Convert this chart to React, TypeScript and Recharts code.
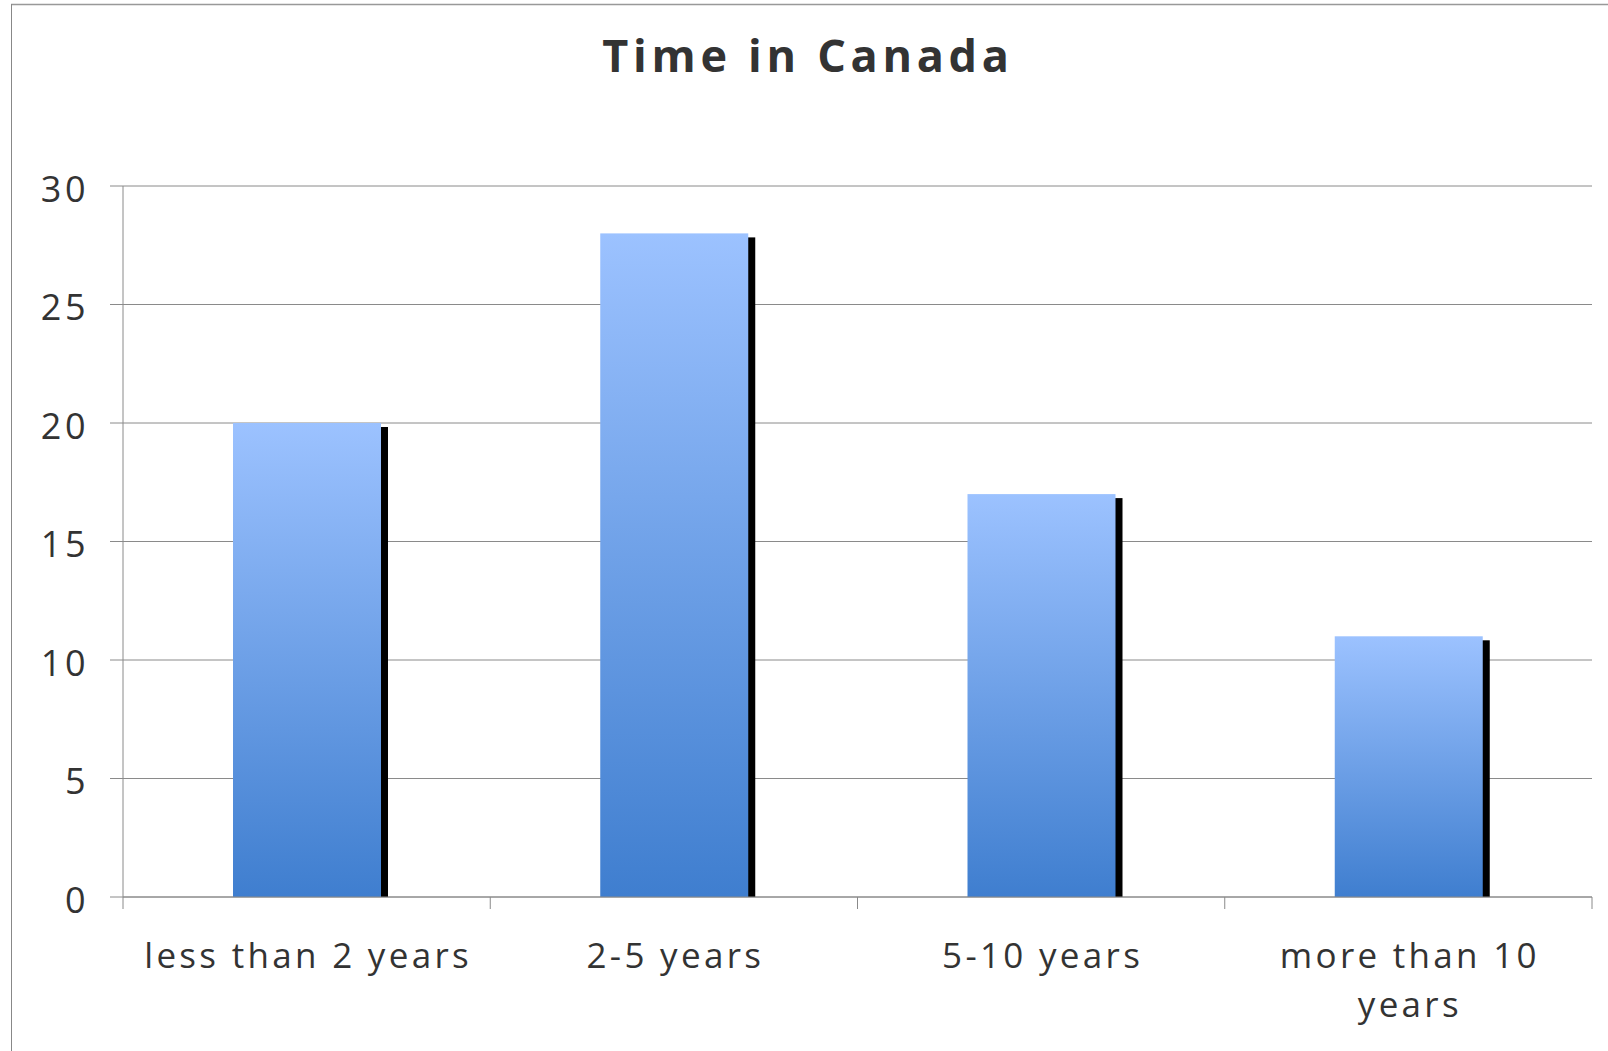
import { BarChart, Bar, XAxis, YAxis, CartesianGrid } from "recharts";

// values
const categories = ["less than 2 years", "2-5 years", "5-10 years", "more than 10 years"];
const counts = [20, 28, 17, 11];
const yTicks = [0, 5, 10, 15, 20, 25, 30];

const data = categories.map((name, i) => ({ name, value: counts[i] }));

const W = 1608;
const H = 1051;
const MARGIN = { top: 186, right: 16, bottom: 0, left: 0 };
const Y_AXIS_W = 123;
const X_AXIS_H = 154;
// width of one category band, so the x ticks can sit on the band edges
const BAND = (W - MARGIN.left - MARGIN.right - Y_AXIS_W) / categories.length;

const FONT = "'Open Sans', 'DejaVu Sans', sans-serif";
const TEXT = "#333333";
const GRID = "#8a8a8a";

// greedy word wrap, by characters
function wrap(label: string, maxChars: number) {
  const lines: string[] = [];
  let cur = "";
  for (const w of label.split(" ")) {
    const next = cur ? cur + " " + w : w;
    if (next.length > maxChars && cur) {
      lines.push(cur);
      cur = w;
    } else {
      cur = next;
    }
  }
  if (cur) lines.push(cur);
  return lines;
}

function CategoryTick(props: any) {
  const { x, y, payload, index } = props;
  const lines = wrap(String(payload.value), 17);
  const left = x - BAND / 2;
  const isLast = index === categories.length - 1;
  return (
    <g>
      <line x1={left} x2={left} y1={y} y2={y + 12} stroke={GRID} />
      {isLast && <line x1={x + BAND / 2} x2={x + BAND / 2} y1={y} y2={y + 12} stroke={GRID} />}
      <text
        x={x + 1.5}
        y={y + 71}
        textAnchor="middle"
        fill={TEXT}
        fontSize={35}
        fontFamily={FONT}
        letterSpacing={3.3}
      >
        {lines.map((l, i) => (
          <tspan key={i} x={x + 1.5} dy={i === 0 ? 0 : 48.5}>
            {l}
          </tspan>
        ))}
      </text>
    </g>
  );
}

// bar with a black drop shadow to the right
function ShadowBar(props: any) {
  const { x, y, width, height } = props;
  if (!height || height <= 0) return null;
  return (
    <g>
      <rect x={x + 7} y={y + 4} width={width} height={height - 4} fill="#000000" />
      <rect x={x} y={y} width={width} height={height} fill="url(#barFill)" />
    </g>
  );
}

export default function App() {
  return (
    <div style={{ position: "absolute", left: 0, top: 0, width: W, height: H, background: "#ffffff" }}>
      <BarChart width={W} height={H} data={data} margin={MARGIN}>
        <defs>
          <linearGradient id="barFill" x1="0" y1="0" x2="0" y2="1">
            <stop offset="0%" stopColor="#9cc2ff" />
            <stop offset="100%" stopColor="#3f7ecf" />
          </linearGradient>
        </defs>
        <CartesianGrid vertical={false} stroke={GRID} />
        <XAxis
          dataKey="name"
          height={X_AXIS_H}
          stroke={GRID}
          tickLine={false}
          tickSize={0}
          tickMargin={0}
          interval={0}
          tick={<CategoryTick />}
        />
        <YAxis
          width={Y_AXIS_W}
          domain={[0, 30]}
          ticks={yTicks}
          interval={0}
          stroke={GRID}
          tickSize={13}
          tickMargin={21}
          tick={{ fill: TEXT, fontSize: 36, fontFamily: FONT, letterSpacing: 3.5, dy: 3 }}
        />
        <Bar dataKey="value" barSize={148} shape={<ShadowBar />} isAnimationActive={false} />
      </BarChart>
      <svg
        width={W}
        height={H}
        style={{ position: "absolute", left: 0, top: 0, pointerEvents: "none" }}
      >
        <line x1={11} x2={W} y1={4.5} y2={4.5} stroke="#999999" strokeWidth={1.5} />
        <line x1={11.5} x2={11.5} y1={4} y2={H} stroke="#888888" />
        <text
          x={808}
          y={72}
          textAnchor="middle"
          fill={TEXT}
          fontSize={45}
          fontWeight="bold"
          fontFamily={FONT}
          letterSpacing={4.7}
        >
          Time in Canada
        </text>
      </svg>
    </div>
  );
}
